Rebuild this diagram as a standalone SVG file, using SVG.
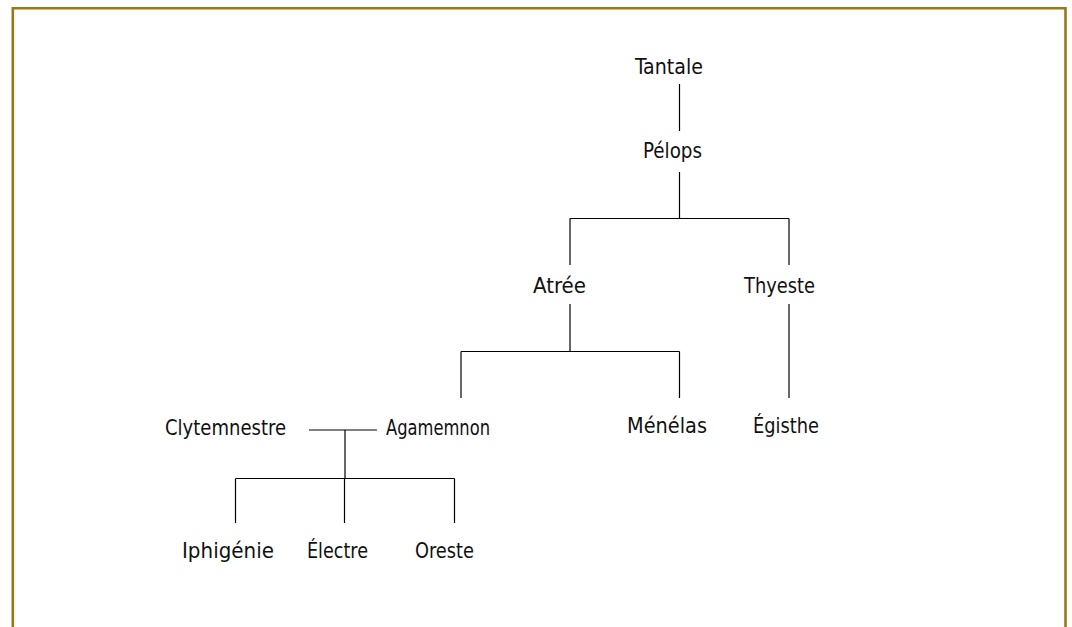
<svg xmlns="http://www.w3.org/2000/svg" width="1072" height="627" viewBox="0 0 1072 627">
<style>
.t{font-family:"DejaVu Sans Condensed","Liberation Sans",Arial,sans-serif;font-stretch:condensed;font-size:21px;fill:#111;}
.c line{stroke:#000;stroke-width:1.2;}
</style>
<rect width="1072" height="627" fill="#fff"/>
<path d="M12.8,630 V8.2 H1065.5 V630" fill="none" stroke="#9a7818" stroke-width="2.6"/>
<g class="c" id="connectors">
<line x1="679.5" y1="84" x2="679.5" y2="131"/>
<line x1="679.5" y1="172" x2="679.5" y2="218.5"/>
<line x1="570" y1="218.5" x2="789" y2="218.5"/>
<line x1="570" y1="218.5" x2="570" y2="265"/>
<line x1="789" y1="218.5" x2="789" y2="265"/>
<line x1="570" y1="304" x2="570" y2="351.5"/>
<line x1="461" y1="351.5" x2="679.5" y2="351.5"/>
<line x1="461" y1="351.5" x2="461" y2="398"/>
<line x1="679.5" y1="351.5" x2="679.5" y2="398"/>
<line x1="789" y1="304" x2="789" y2="398"/>
<line x1="309" y1="430" x2="377" y2="430"/>
<line x1="345" y1="430" x2="345" y2="478.5"/>
<line x1="235.5" y1="478.5" x2="454.5" y2="478.5"/>
<line x1="235.5" y1="478.5" x2="235.5" y2="523"/>
<line x1="344.5" y1="478.5" x2="344.5" y2="523"/>
<line x1="454.5" y1="478.5" x2="454.5" y2="523"/>
</g>
<g id="tantale"><text class="t" x="635" y="74" textLength="68" lengthAdjust="spacingAndGlyphs">Tantale</text></g>
<g id="pelops"><text class="t" x="643" y="158" textLength="59" lengthAdjust="spacingAndGlyphs">Pélops</text></g>
<g id="atree"><text class="t" x="533" y="293" textLength="53" lengthAdjust="spacingAndGlyphs">Atrée</text></g>
<g id="thyeste"><text class="t" x="744" y="293" textLength="71" lengthAdjust="spacingAndGlyphs">Thyeste</text></g>
<g id="clytemnestre"><text class="t" x="165" y="435" textLength="121" lengthAdjust="spacingAndGlyphs">Clytemnestre</text></g>
<g id="agamemnon"><text class="t" x="386" y="435" textLength="104" lengthAdjust="spacingAndGlyphs">Agamemnon</text></g>
<g id="menelas"><text class="t" x="627" y="433" textLength="80" lengthAdjust="spacingAndGlyphs">Ménélas</text></g>
<g id="egisthe"><text class="t" x="753" y="433" textLength="66" lengthAdjust="spacingAndGlyphs">Égisthe</text></g>
<g id="iphigenie"><text class="t" x="182" y="558" textLength="92" lengthAdjust="spacingAndGlyphs">Iphigénie</text></g>
<g id="electre"><text class="t" x="307" y="558" textLength="61" lengthAdjust="spacingAndGlyphs">Électre</text></g>
<g id="oreste"><text class="t" x="415" y="558" textLength="59" lengthAdjust="spacingAndGlyphs">Oreste</text></g>
</svg>
